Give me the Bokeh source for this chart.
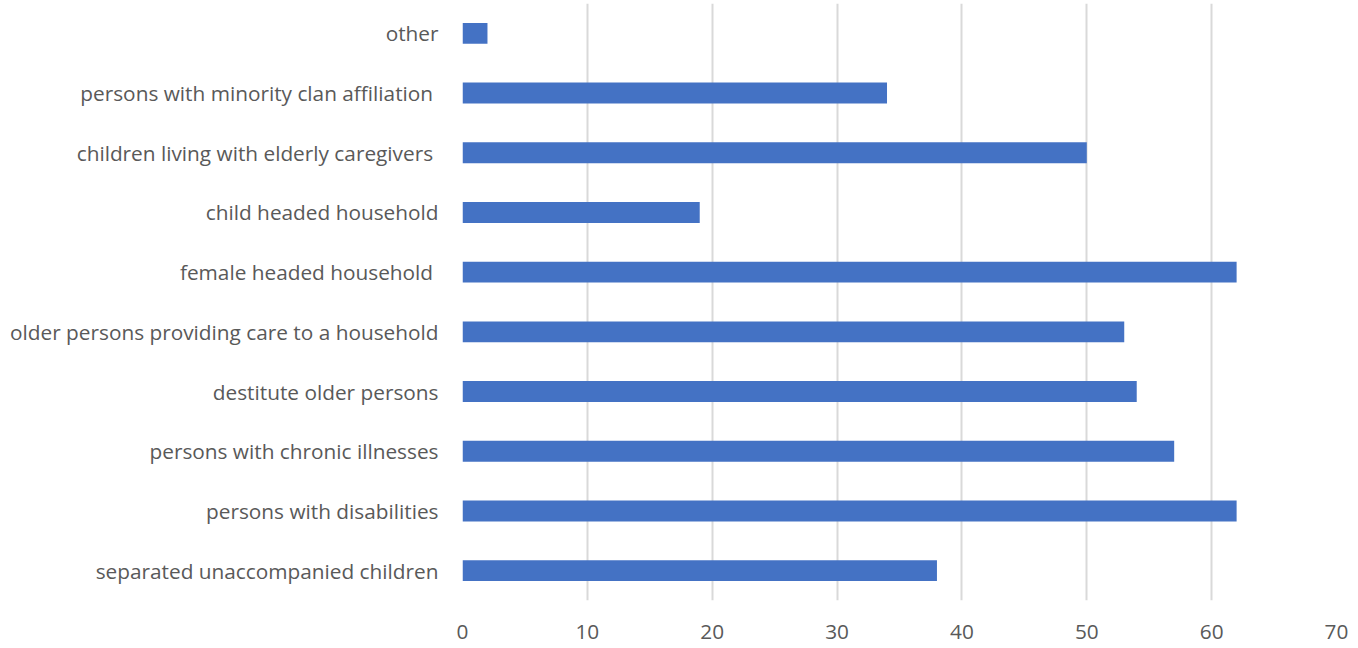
from bokeh.plotting import figure
from bokeh.models import FactorRange, Range1d, FixedTicker, ColumnDataSource
from bokeh.embed import file_html
from bokeh.resources import INLINE

categories = [
    "separated unaccompanied children",
    "persons with disabilities",
    "persons with chronic illnesses",
    "destitute older persons",
    "older persons providing care to a household",
    "female  headed household",
    "child headed household",
    "children living with elderly caregivers ",
    "persons with minority clan affiliation ",
    "other",
]
values = [38, 62, 57, 54, 53, 62, 19, 50, 34, 2]
x_ticks = [0, 10, 20, 30, 40, 50, 60, 70]

FONT = "Open Sans"
TEXT = "#595959"

src = ColumnDataSource(data=dict(cat=categories, val=values))

p = figure(
    width=1350, height=648,
    y_range=FactorRange(factors=categories, range_padding=0),
    x_range=Range1d(0, 70),
    output_backend="svg", toolbar_location=None,
    min_border_left=462, min_border_right=14, min_border_top=3, min_border_bottom=48,
)
p.hbar(y="cat", right="val", left=0, height=0.35, source=src,
       fill_color="#4472C4", line_color=None)

p.outline_line_color = None
p.ygrid.grid_line_color = None
p.xgrid.grid_line_color = "#d9d9d9"
p.xgrid.grid_line_width = 2
p.xaxis.ticker = FixedTicker(ticks=x_ticks)

for ax in (p.xaxis[0], p.yaxis[0]):
    ax.axis_line_color = None
    ax.major_tick_line_color = None
    ax.minor_tick_line_color = None
    ax.major_label_text_font = FONT
    ax.major_label_text_color = TEXT
    ax.major_label_text_font_size = "20.8px"

p.xaxis.major_label_standoff = 18
p.yaxis.major_label_standoff = 18

open("out.html", "w").write(file_html(p, INLINE))
